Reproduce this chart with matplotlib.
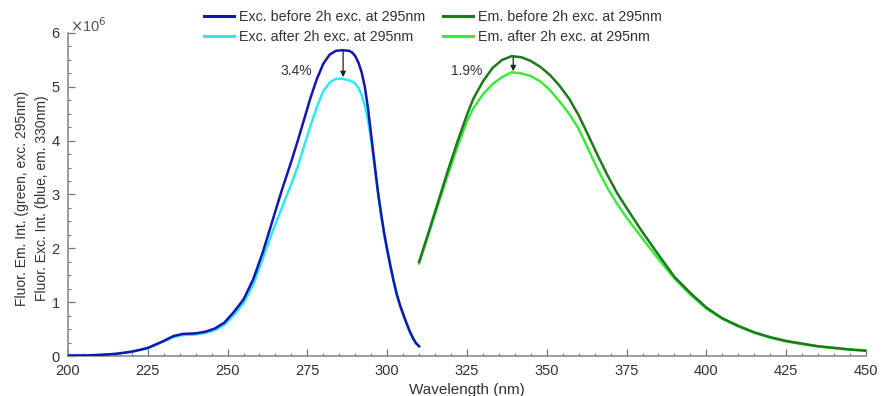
import matplotlib

matplotlib.use("Agg")
import matplotlib.pyplot as plt
from matplotlib.ticker import MultipleLocator
import numpy as np

plt.rcParams["font.family"] = ["Liberation Sans", "DejaVu Sans"]

# excitation spectra (em. 330 nm), intensity in 1e6 counts
exc_wl = [200, 205, 210, 215, 220, 225, 230, 233, 236, 240, 243, 246, 249, 252, 255,
          258, 261, 264, 267, 270, 272, 274, 276, 278, 280, 282, 284, 286, 288, 289,
          290, 291, 292, 293, 294, 295, 296, 297, 298, 299, 300, 301, 302, 303, 304,
          305, 306, 307, 308, 309, 310]
exc_before = [0.01, 0.01, 0.02, 0.04, 0.08, 0.15, 0.28, 0.37, 0.41, 0.42, 0.45, 0.51, 0.62,
              0.82, 1.05, 1.42, 1.92, 2.50, 3.08, 3.62, 4.00, 4.40, 4.80, 5.15, 5.43, 5.60,
              5.67, 5.68, 5.67, 5.64, 5.57, 5.45, 5.27, 5.00, 4.60, 4.10, 3.60, 3.10, 2.68,
              2.30, 1.98, 1.68, 1.40, 1.15, 0.95, 0.78, 0.62, 0.47, 0.34, 0.24, 0.18]
exc_after = [0.01, 0.01, 0.02, 0.04, 0.08, 0.14, 0.27, 0.35, 0.39, 0.40, 0.43, 0.48, 0.58,
             0.76, 0.98, 1.32, 1.80, 2.30, 2.75, 3.20, 3.52, 3.90, 4.28, 4.63, 4.92, 5.08,
             5.15, 5.15, 5.12, 5.10, 5.06, 4.98, 4.85, 4.65, 4.38, 4.00, 3.55, 3.08, 2.66,
             2.28, 1.96, 1.66, 1.39, 1.14, 0.94, 0.77, 0.61, 0.46, 0.34, 0.24, 0.18]

# emission spectra (exc. 295 nm)
em_wl = [310, 313, 316, 319, 322, 325, 327, 330, 333, 336, 339, 342, 345, 348, 351, 354,
         357, 360, 363, 366, 369, 372, 375, 380, 385, 390, 395, 400, 405, 410, 415, 420,
         425, 430, 435, 440, 445, 450]
em_before = [1.75, 2.30, 2.87, 3.44, 3.98, 4.48, 4.78, 5.10, 5.35, 5.50, 5.57, 5.55, 5.48,
             5.37, 5.22, 5.02, 4.78, 4.47, 4.10, 3.72, 3.36, 3.03, 2.75, 2.30, 1.88, 1.47,
             1.17, 0.90, 0.70, 0.56, 0.44, 0.35, 0.28, 0.23, 0.18, 0.15, 0.12, 0.10]
em_after = [1.72, 2.27, 2.82, 3.36, 3.88, 4.36, 4.60, 4.86, 5.05, 5.18, 5.27, 5.25, 5.20,
            5.10, 4.94, 4.73, 4.50, 4.22, 3.84, 3.46, 3.12, 2.83, 2.57, 2.18, 1.80, 1.44,
            1.14, 0.88, 0.69, 0.55, 0.43, 0.34, 0.27, 0.22, 0.18, 0.15, 0.12, 0.10]

exc_drop = ("3.4%", 286.2, 5.66, 5.18)
em_drop = ("1.9%", 339.5, 5.55, 5.29)

fig = plt.figure(figsize=(8.85, 3.96), dpi=100)
ax = fig.add_axes([0.0768, 0.101, 0.9017, 0.8157])

scale = 1e6
l1, = ax.plot(exc_wl, np.array(exc_before) * scale, color="#1515b0", lw=1.8, zorder=3)
l2, = ax.plot(exc_wl, np.array(exc_after) * scale, color="#2ee8f0", lw=1.8, zorder=2)
l3, = ax.plot(em_wl, np.array(em_before) * scale, color="#1c7a1c", lw=1.8, zorder=3)
l4, = ax.plot(em_wl, np.array(em_after) * scale, color="#3ee83e", lw=1.8, zorder=2)

for label, x, y0, y1 in (exc_drop, em_drop):
    ax.annotate("", xy=(x, y1 * scale), xytext=(x, y0 * scale),
                arrowprops=dict(arrowstyle="-|>", color="#222222", lw=0.9,
                                mutation_scale=8, shrinkA=0, shrinkB=0), zorder=5)
    ax.text(x - 9.6, 5.29 * scale, label, ha="right", va="center", fontsize=10,
            color="#333333")

ax.set_xlim(200, 450)
ax.set_ylim(0, 6 * scale)
ax.xaxis.set_major_locator(MultipleLocator(25))
ax.xaxis.set_minor_locator(MultipleLocator(5))
ax.yaxis.set_minor_locator(MultipleLocator(0.25 * scale))
ax.set_yticks(np.arange(0, 7) * scale)
ax.set_yticklabels([str(i) for i in range(7)])

for side in ("top", "right"):
    ax.spines[side].set_visible(False)
for side in ("left", "bottom"):
    ax.spines[side].set_color("#8a8a8a")
    ax.spines[side].set_linewidth(1.2)
ax.tick_params(which="both", direction="in", color="#777777", labelcolor="#333333",
               labelsize=10.5)
ax.tick_params(which="major", length=5, width=0.9)
ax.tick_params(which="minor", length=2.5, width=0.8)
ax.tick_params(axis="x", which="major", pad=6)
ax.tick_params(axis="y", which="major", pad=6)

ax.set_xlabel("Wavelength (nm)", fontsize=11, color="#333333")
ax.xaxis.set_label_coords(0.5, -0.083)
fig.text(0.025, 0.5, "Fluor. Em. Int. (green, exc. 295nm)", rotation=90, ha="center",
         va="center", fontsize=10, color="#333333")
fig.text(0.048, 0.5, "Fluor. Exc. Int. (blue, em. 330nm)", rotation=90, ha="center",
         va="center", fontsize=10, color="#333333")
fig.text(0.079, 0.935, r"$\times$10$^6$", ha="left", va="center", fontsize=10.5,
         color="#555555")

leg_kw = dict(loc="center left", frameon=False, fontsize=10.3, handlelength=2.1,
              handletextpad=0.35, labelspacing=0.45, borderaxespad=0, borderpad=0)
leg1 = fig.legend([l1, l2], ["Exc. before 2h exc. at 295nm", "Exc. after 2h exc. at 295nm"],
                  bbox_to_anchor=(0.230, 0.932), **leg_kw)
leg2 = fig.legend([l3, l4], ["Em. before 2h exc. at 295nm", "Em. after 2h exc. at 295nm"],
                  bbox_to_anchor=(0.500, 0.932), **leg_kw)
for leg in (leg1, leg2):
    for t in leg.get_texts():
        t.set_color("#333333")
    for h in leg.legend_handles:
        h.set_linewidth(2.2)

fig.savefig("out.png", dpi=100)
plt.close(fig)
